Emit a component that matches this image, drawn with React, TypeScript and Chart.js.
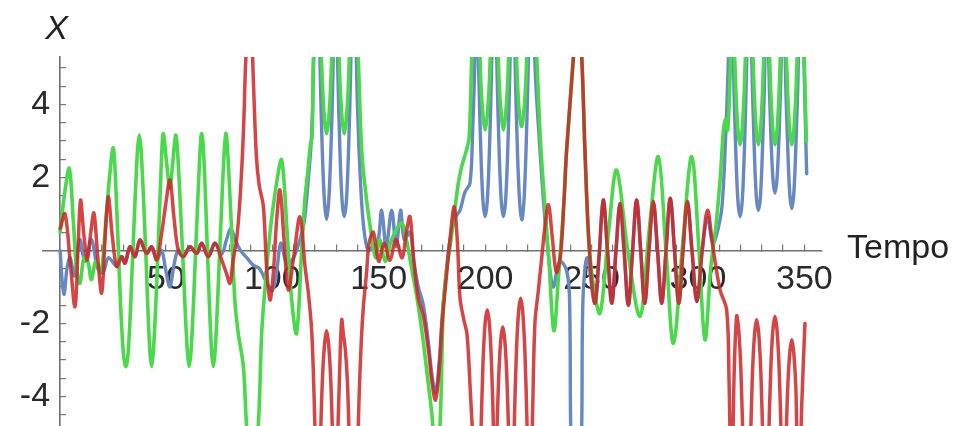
import { useEffect, useRef } from 'react';
import { Chart, registerables } from 'chart.js';

Chart.register(...registerables);

// [Tempo, X] samples
const redPoints: number[][] = [
  [0.3, 0.6], [2.6, 1.0], [5.0, -0.3], [7.3, -1.54], [8.8, 0.2], [9.9, 1.38], [11.5, 0.4], [13.1, -0.26],
  [14.7, 0.5], [16.2, 1.02], [18.0, -0.2], [19.8, -1.17], [21.3, 0.2], [22.9, 1.47], [24.8, 0.4], [26.9, -0.44],
  [29.2, -0.17], [30.8, -0.35], [33.1, 0.1], [35.5, -0.17], [37.8, 0.29], [40.9, -0.08], [43.3, 0.1], [45.7, -0.26],
  [48.0, 0.47], [50.0, 1.3], [51.9, 1.93], [53.8, 0.9], [55.8, 0.01], [58.2, -0.17], [61.3, 0.1], [64.5, -0.08],
  [66.8, 0.2], [69.9, -0.17], [73.1, 0.2], [76.2, -0.26], [78.3, -0.6], [80.1, -0.9], [81.5, -0.3], [83.2, 0.29],
  [84.8, 1.38], [86.4, 3.2], [87.6, 5.3], [89.5, 7.0], [91.2, 4.5], [92.5, 2.6], [93.8, 1.8], [95.8, 1.2],
  [97.3, -0.44], [98.9, -1.36], [100.5, -0.6], [102.0, 0.8], [103.6, 1.66], [105.5, 0.3], [107.5, -1.08], [110.0, -0.2],
  [113.0, 0.92], [115.4, -0.45], [117.0, -1.2], [118.6, -2.3], [120.0, -4.8], [121.4, -8], [122.5, -5.5], [123.5, -3.6],
  [124.5, -2.6], [125.5, -2.2], [126.5, -2.6], [127.5, -3.6], [128.5, -5.5], [129.4, -8], [130.6, -5.4], [131.6, -3.4],
  [132.6, -1.9], [133.4, -2.3], [134.3, -2.7], [135.3, -3.6], [136.3, -5.5], [137.6, -8], [139.5, -6.5], [140.8, -4.0],
  [141.8, -2.5], [142.8, -1.54], [144.3, -0.6], [145.5, 0.2], [147.5, 0.5], [150.0, -0.3], [152.5, 0.2], [155.3, -0.27],
  [158.0, 0.3], [161.0, -0.2], [163.0, 0.5], [164.7, 0.93], [166.5, -0.3], [168.6, -1.3], [171.0, -1.8], [173.5, -2.8],
  [175.0, -3.6], [176.7, -4.1], [178.5, -3.2], [179.8, -2.0], [181.2, -1.1], [183.5, 0.3], [185.5, 1.2], [187.0, 0.2],
  [188.2, -1.3], [190.0, -1.9], [191.5, -2.3], [193.0, -3.8], [194.5, -5.5], [196.5, -8], [198.0, -5.1], [199.0, -3.1],
  [200.0, -2.0], [201.0, -1.63], [202.0, -2.0], [203.0, -3.1], [204.0, -5.1], [204.8, -8], [205.3, -5.6], [206.3, -3.6],
  [207.3, -2.5], [208.3, -2.1], [209.3, -2.5], [210.3, -3.6], [211.3, -5.6], [212.5, -8], [213.7, -4.8], [214.7, -2.8],
  [215.7, -1.7], [216.7, -1.31], [217.7, -1.7], [218.7, -2.8], [219.7, -4.8], [220.8, -8], [222.3, -4.5], [223.4, -2.0],
  [225.0, -1.1], [226.6, -0.2], [228.2, 0.7], [229.8, 1.25], [231.5, 0.4], [233.5, -0.6], [235.5, -0.1], [237.0, 1.3],
  [238.3, 2.75], [241.5, 5.3], [243.4, 7.0], [245.4, 5.3], [246.9, 2.75], [249.0, 0.0], [251.5, -1.45], [253.5, -0.2],
  [255.5, 1.38], [257.5, 0.0], [259.5, -1.45], [261.5, 0.0], [263.4, 1.29], [265.3, 0.0], [267.3, -1.5], [269.3, 0.0],
  [271.2, 1.38], [273.1, 0.0], [275.0, -1.45], [277.0, 0.0], [279.0, 1.35], [281.0, 0.0], [283.0, -1.45], [285.0, 0.0],
  [287.0, 1.43], [289.0, 0.0], [291.0, -1.45], [293.0, 0.0], [295.0, 1.35], [297.2, 0.0], [299.5, -1.4], [302.0, 0.0],
  [304.5, 1.1], [307.0, 0.1], [310.4, -1.08], [313.5, -1.63], [314.6, -3.5], [315.8, -7], [317.0, -3.4], [318.2, -1.8],
  [319.2, -2.2], [320.2, -3.3], [321.2, -5.3], [322.8, -8], [324.6, -5.4], [325.6, -3.4], [326.6, -2.3], [327.6, -1.9],
  [328.6, -2.3], [329.6, -3.4], [330.6, -5.4], [332.0, -8], [333.2, -5.3], [334.2, -3.3], [335.2, -2.2], [336.2, -1.81],
  [337.2, -2.2], [338.2, -3.3], [339.2, -5.3], [340.2, -8], [341.1, -5.9], [342.1, -3.9], [343.1, -2.85], [344.1, -2.45],
  [345.1, -2.85], [346.1, -3.9], [347.2, -7.5], [348.8, -4.2], [350.3, -2.0],
];

const greenPoints: number[][] = [
  [0.3, 0.5], [2.5, 1.6], [4.6, 2.25], [6.5, 0.8], [8.0, -0.5], [9.6, -0.9], [11.5, -0.2], [13.3, -0.3],
  [15.0, -0.8], [17.0, -0.3], [19.5, -0.6], [21.5, 0.6], [23.5, 2.0], [25.3, 2.8], [27.0, 1.0], [28.5, -1.2],
  [30.0, -2.8], [31.2, -3.18], [32.5, -2.6], [34.5, 0.0], [36.5, 2.6], [37.5, 3.16], [38.5, 2.6], [40.5, 0.0],
  [42.3, -2.6], [43.3, -3.18], [44.3, -2.6], [46.3, 0.0], [48.0, 2.6], [48.8, 3.2], [50.5, 2.3], [51.9, 1.7],
  [53.2, 2.4], [54.6, 3.16], [55.6, 2.6], [57.8, 0.0], [59.9, -2.6], [60.9, -3.18], [62.0, -2.6], [64.0, 0.0],
  [66.0, 2.7], [66.8, 3.2], [67.8, 2.6], [69.5, 0.0], [71.3, -2.6], [72.3, -3.18], [73.3, -2.6], [75.3, 0.0],
  [77.4, 2.7], [78.3, 3.2], [79.5, 2.2], [80.9, 0.47], [82.4, -1.36], [84.0, -2.27], [86.4, -3.18], [87.9, -4.8],
  [90.5, -6.5], [93.4, -4.8], [95.0, -2.27], [96.5, -1.08], [98.9, 0.47], [102.0, 1.84], [104.4, 2.48], [107.0, 0.47],
  [109.1, -1.36], [111.4, -2.27], [113.8, 0.0], [115.3, 1.38], [116.9, 2.3], [117.9, 2.9], [118.7, 3.1], [119.3, 5.3],
  [120.8, 9], [122.3, 6.5], [123.5, 4.6], [124.5, 3.6], [125.5, 3.2], [126.5, 3.6], [127.5, 4.6], [128.5, 6.5],
  [129.6, 9], [130.8, 6.5], [131.8, 4.6], [132.8, 3.6], [133.8, 3.2], [134.8, 3.6], [135.8, 4.6], [136.8, 6.5],
  [138.0, 9], [140.4, 5.3], [142.0, 2.75], [144.3, 1.38], [146.7, 0.38], [148.5, -0.2], [150.5, 0.3], [153.0, -0.3],
  [155.5, 0.2], [158.5, 0.6], [161.0, 0.75], [163.0, 0.3], [165.5, -0.5], [168.0, -1.3], [170.5, -2.3], [173.0, -3.5],
  [175.0, -4.5], [177.3, -6], [179.0, -4.5], [180.4, -1.5], [182.0, -0.5], [183.5, 0.1], [185.0, 0.75], [187.4, 1.84],
  [189.0, 2.3], [191.0, 2.7], [192.5, 3.1], [193.7, 5.3], [195.7, 9], [197.0, 6.5], [198.0, 4.6], [199.0, 3.7],
  [200.0, 3.3], [201.0, 3.7], [202.0, 4.6], [203.0, 6.5], [204.3, 9], [205.6, 6.5], [206.6, 4.6], [207.6, 3.7],
  [208.6, 3.3], [209.6, 3.7], [210.6, 4.6], [211.6, 6.5], [212.9, 9], [214.2, 6.5], [215.2, 4.6], [216.2, 3.7],
  [217.2, 3.4], [218.2, 3.8], [219.2, 4.7], [220.2, 6.5], [221.8, 9], [223.5, 6.5], [224.5, 5.0], [226.0, 3.0],
  [228.0, 1.3], [230.0, -0.3], [232.3, -2.2], [234.5, -0.7], [237.0, 1.3], [238.3, 2.75], [241.5, 5.3], [243.4, 7.0],
  [245.4, 5.3], [246.9, 2.75], [248.5, 0.5], [250.5, -0.8], [254.0, -1.72], [258.0, 0.5], [261.8, 2.2], [267.0, 0.0],
  [272.8, -1.8], [277.0, 0.5], [281.4, 2.57], [285.0, 0.0], [288.5, -2.54], [293.0, 0.3], [297.1, 2.57], [300.5, 0.0],
  [303.3, -2.45], [306.0, -0.5], [308.5, 0.7], [310.5, 2.0], [312.0, 3.3], [312.9, 3.6], [314.0, 3.3], [315.3, 5.3],
  [316.0, 9], [316.8, 6.3], [317.8, 4.4], [318.8, 3.3], [319.8, 2.9], [320.8, 3.3], [321.8, 4.4], [322.8, 6.3],
  [324.1, 9], [325.4, 6.3], [326.4, 4.4], [327.4, 3.3], [328.4, 2.9], [329.4, 3.3], [330.4, 4.4], [331.4, 6.3],
  [332.3, 9], [333.2, 6.3], [334.2, 4.4], [335.2, 3.3], [336.2, 2.9], [337.2, 3.3], [338.2, 4.4], [339.2, 6.3],
  [340.2, 9], [341.1, 6.3], [342.1, 4.4], [343.1, 3.3], [344.1, 2.9], [345.1, 3.3], [346.1, 4.4], [347.1, 6.3],
  [347.9, 9], [351.0, 3.0],
];

const bluePoints: number[][] = [
  [0.3, 0.0], [1.2, -0.8], [2.2, -1.2], [3.5, -0.5], [5.0, -0.2], [7.0, -0.7], [9.5, 0.3], [12.0, -0.3],
  [15.0, 0.3], [18.0, -0.5], [20.5, -0.6], [23.0, -0.2], [26.9, -0.44], [29.2, -0.17], [30.8, -0.35], [33.1, 0.1],
  [35.5, -0.17], [37.8, 0.29], [40.9, -0.08], [43.3, 0.1], [45.7, -0.26], [48.0, 0.0], [49.8, -0.5], [51.9, -1.0],
  [53.8, -0.4], [55.8, 0.01], [58.2, -0.17], [61.3, 0.1], [64.5, -0.08], [66.8, 0.2], [69.9, -0.17], [73.1, 0.2],
  [76.2, -0.1], [78.5, 0.3], [80.5, 0.6], [82.5, 0.3], [85.0, 0.0], [88.0, -0.2], [91.0, -0.4], [94.0, -0.5],
  [97.5, -0.9], [100.0, -1.1], [102.0, -0.6], [104.0, 0.2], [107.0, -0.4], [110.0, -0.2], [113.0, 0.3], [115.0, 0.8],
  [117.0, 2.0], [118.5, 3.2], [119.5, 5.3], [121.4, 9], [122.5, 4.9], [123.5, 2.7], [124.5, 1.35], [125.5, 0.85],
  [126.5, 1.35], [127.5, 2.7], [128.5, 4.9], [129.6, 9], [130.8, 4.9], [131.8, 2.7], [132.8, 1.35], [133.8, 0.93],
  [134.8, 1.35], [135.8, 2.7], [136.8, 4.9], [138.0, 9], [140.0, 4.0], [141.5, 1.8], [143.0, 0.6], [145.0, 0.0],
  [147.0, 0.1], [149.5, 0.2], [151.4, 1.1], [153.5, 0.1], [156.1, 1.1], [158.2, 0.1], [160.3, 1.1], [162.0, 0.3],
  [164.7, 0.5], [166.5, -0.3], [168.6, -1.0], [171.0, -1.5], [173.5, -2.6], [175.0, -3.4], [176.7, -3.9], [178.5, -3.0],
  [179.8, -1.8], [181.2, -0.9], [183.5, 0.3],
  [186.0, 0.9], [188.2, 1.1], [190.5, 1.6], [192.9, 1.84], [194.2, 3.4], [195.2, 5.3], [195.7, 9], [197.0, 4.9],
  [198.0, 2.7], [199.0, 1.35], [200.0, 0.93], [201.0, 1.35], [202.0, 2.7], [203.0, 4.9], [204.3, 9], [205.6, 4.9],
  [206.6, 2.7], [207.6, 1.35], [208.6, 0.93], [209.6, 1.35], [210.6, 2.7], [211.6, 4.9], [212.9, 9], [214.2, 4.9],
  [215.2, 2.7], [216.2, 1.35], [217.2, 0.84], [218.2, 1.3], [219.2, 2.7], [220.2, 4.9], [221.8, 9], [223.5, 5.0],
  [225.5, 3.0], [227.5, 1.3], [229.5, 0.0], [232.0, -1.0], [235.0, -0.3], [238.0, -0.5], [239.6, -1.2], [240.2, -4.8],
  [242.8, -12], [245.4, -4.8], [246.0, -1.3], [248.0, -0.2], [251.5, -1.45], [253.5, -0.2],
  [255.5, 1.38], [257.5, 0.0], [259.5, -1.45], [261.5, 0.0], [263.4, 1.29], [265.3, 0.0], [267.3, -1.5], [269.3, 0.0],
  [271.2, 1.38], [273.1, 0.0], [275.0, -1.45], [277.0, 0.0], [279.0, 1.35], [281.0, 0.0], [283.0, -1.45], [285.0, 0.0],
  [287.0, 1.43], [289.0, 0.0], [291.0, -1.45], [293.0, 0.0], [295.0, 1.35], [297.2, 0.0], [299.5, -1.4], [302.0, 0.0],
  [304.5, 0.9], [307.0, 0.2], [309.5, 0.6], [311.3, 1.2], [312.8, 2.8], [314.2, 5.0], [316.0, 9],
  [316.8, 4.9], [317.8, 2.7], [318.8, 1.35], [319.8, 0.93], [320.8, 1.35], [321.8, 2.7], [322.8, 4.9], [324.1, 9],
  [325.4, 5.0], [326.4, 2.9], [327.4, 1.5], [328.4, 1.1], [329.4, 1.5], [330.4, 2.9], [331.4, 5.0], [332.3, 9],
  [333.2, 5.4], [334.2, 3.3], [335.2, 2.0], [336.2, 1.57], [337.2, 2.0], [338.2, 3.3], [339.2, 5.4], [340.2, 9],
  [341.1, 5.0], [342.1, 3.0], [343.1, 1.6], [344.1, 1.15], [345.1, 1.6], [346.1, 3.0], [347.1, 5.0], [347.9, 9],
  [351.1, 2.1],
];

const xTicks = [10, 20, 30, 40, 50, 60, 70, 80, 90, 100, 110, 120, 130, 140, 150, 160, 170, 180, 190, 200,
  210, 220, 230, 240, 250, 260, 270, 280, 290, 300, 310, 320, 330, 340, 350];
const xTickLabels = [50, 100, 150, 200, 250, 300, 350];
const yTicks = [-4.5, -4, -3.5, -3, -2.5, -2, -1.5, -1, -0.5, 0.5, 1, 1.5, 2, 2.5, 3, 3.5, 4, 4.5, 5];
const yTickLabels = [-4, -2, 2, 4];
const xTitle = 'Tempo';
const yTitle = 'X';

const FONT = '"Liberation Sans", Arial, Helvetica, sans-serif';

const axisTitles = {
  id: 'axisTitles',
  afterDraw(chart: any) {
    const { ctx, chartArea, scales } = chart;
    const y0 = scales.y.getPixelForValue(0);
    const x0 = scales.x.getPixelForValue(0);
    ctx.save();
    ctx.fillStyle = '#222';
    ctx.textBaseline = 'middle';
    ctx.font = `34px ${FONT}`;
    ctx.textAlign = 'left';
    ctx.fillText(xTitle, chartArea.right + 25, y0 - 2);
    ctx.font = `italic 34px ${FONT}`;
    ctx.textAlign = 'center';
    ctx.fillText(yTitle, x0 - 3, chartArea.top - 27);
    ctx.restore();
  },
};

const toXY = (pts: number[][]) => pts.map((p) => ({ x: p[0], y: p[1] }));

export default function App() {
  const ref = useRef<HTMLCanvasElement>(null);

  useEffect(() => {
    if (!ref.current) return;
    const tickFont = { family: FONT, size: 34 };
    const chart = new Chart(ref.current, {
      type: 'line',
      data: {
        datasets: [
          { label: 'red', data: toXY(redPoints), borderColor: 'rgba(204, 36, 36, 0.85)', borderWidth: 3.5, order: 0 },
          { label: 'green', data: toXY(greenPoints), borderColor: 'rgb(76, 216, 76)', borderWidth: 3.6, order: 1 },
          { label: 'blue', data: toXY(bluePoints), borderColor: 'rgb(104, 136, 194)', borderWidth: 3.4, order: 2 },
        ],
      },
      options: {
        animation: false,
        responsive: false,
        events: [],
        layout: { padding: { left: 43, right: 141, top: 57, bottom: 54 } },
        plugins: { legend: { display: false }, tooltip: { enabled: false } },
        elements: {
          point: { radius: 0 },
          line: { tension: 0.35, capBezierPoints: false, borderJoinStyle: 'round', borderCapStyle: 'round' },
        },
        scales: {
          x: {
            type: 'linear',
            min: -7.75,
            max: 358.3,
            position: { y: 0 },
            afterBuildTicks: (s: any) => { s.ticks = xTicks.map((v) => ({ value: v })); },
            ticks: {
              autoSkip: false, maxRotation: 0, minRotation: 0, padding: 16, color: '#2a2a2a', font: tickFont,
              callback: (v: any) => (xTickLabels.includes(Number(v)) ? String(v) : ''),
            },
            grid: { drawOnChartArea: false, drawTicks: true, tickLength: -7, color: '#777', lineWidth: 1.2 },
            border: { display: true, color: '#707070', width: 1.6 },
          },
          y: {
            type: 'linear',
            min: -4.81,
            max: 5.3,
            position: { x: 0 },
            afterBuildTicks: (s: any) => { s.ticks = yTicks.map((v) => ({ value: v })); },
            ticks: {
              autoSkip: false, padding: 8, color: '#2a2a2a', font: tickFont,
              callback: (v: any) => (yTickLabels.includes(Number(v)) ? `${v} ` : ''),
            },
            grid: { drawOnChartArea: false, drawTicks: true, tickLength: -7, color: '#777', lineWidth: 1.2 },
            border: { display: true, color: '#707070', width: 1.6 },
          },
        },
      } as any,
      plugins: [axisTitles],
    });
    return () => chart.destroy();
  }, []);

  return (
    <div style={{ position: 'fixed', left: 0, top: 0, width: 963, height: 480, background: '#fff' }}>
      <canvas ref={ref} width={963} height={480} style={{ display: 'block' }} />
    </div>
  );
}
